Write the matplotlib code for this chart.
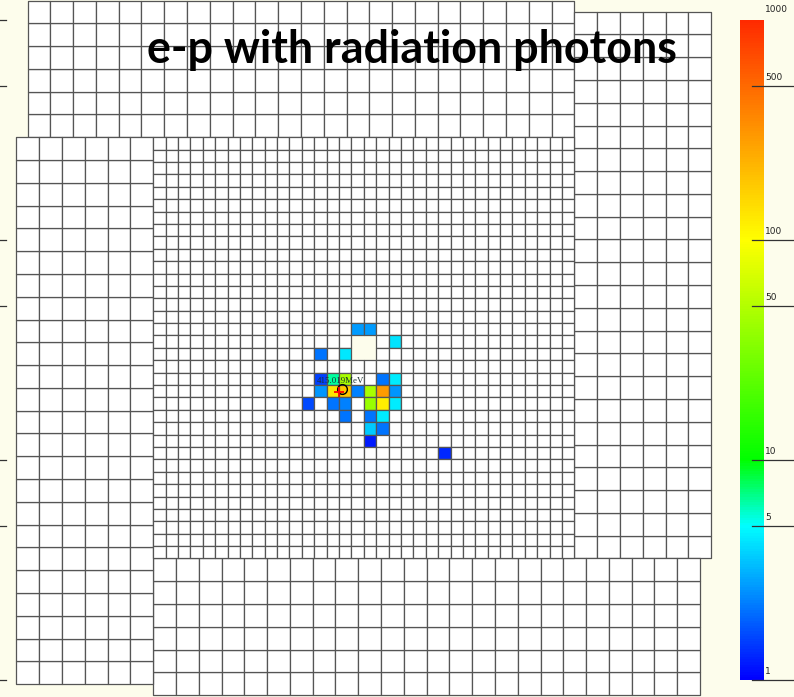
import numpy as np
import matplotlib
matplotlib.use("Agg")
import matplotlib.pyplot as plt
from matplotlib.patches import Rectangle
from matplotlib.collections import PatchCollection
from matplotlib.colors import LinearSegmentedColormap, LogNorm
from matplotlib.transforms import blended_transform_factory
import matplotlib.cm as cm

# HyCal-like layout: 34x34 PbWO4 crystals with a 2x2 hole, 4 lead-glass blocks around
crystal_size = 2.077   # cm
glass_size = 3.82      # cm
n_crystal = 34
hole_cols = [16, 17]
hole_rows = [16, 17]

# fired crystals (column, row from top) and energy (MeV)
hit_cols = [16, 17, 19, 13, 15, 13, 14, 15, 18, 19, 13, 14, 15, 16, 17, 18, 19,
            12, 14, 15, 17, 18, 19, 15, 17, 18, 17, 18, 17, 23]
hit_rows = [15, 15, 16, 17, 17, 19, 19, 19, 19, 19, 20, 20, 20, 20, 20, 20, 20,
            21, 21, 21, 21, 21, 21, 22, 22, 22, 23, 23, 24, 25]
hit_energy = [2.7, 2.7, 4.2, 2.1, 4.3, 1.5, 6.5, 45, 2.1, 4.5, 2.6, 135, 180, 2.3, 46, 290, 2.6,
              1.6, 2.1, 2.3, 40, 120, 4.5, 2.1, 2.1, 4.5, 3.6, 2.1, 1.2, 1.3]

cluster_x, cluster_y = -3.65, -6.89   # reconstructed cluster (cm)
photon_x, photon_y = -4.16, -7.39
cluster_label = "415.019MeV"

cbar_ticks = [500, 100, 50, 10, 5, 1]
cbar_labels = ["500", "100", "50", "10", "5", "1"]

bg = "#fdfdec"
edge = "#555555"

cmap = LinearSegmentedColormap.from_list(
    "hycal",
    [(0.0, "#0000ff"), (0.233, "#00ffff"), (0.333, "#00ff00"),
     (0.667, "#ffff00"), (1.0, "#ff2a00")])
norm = LogNorm(1, 1000)

fig = plt.figure(figsize=(7.94, 6.97), dpi=100, facecolor=bg)
ax = fig.add_axes([0, 0, 1, 1])
ax.set_facecolor(bg)
ax.set_xlim(-60.99, 72.12)
ax.set_ylim(-58.53, 58.32)
ax.axis("off")

W = n_crystal * crystal_size / 2
span = 24 * glass_size

# lead glass blocks (x0, y0, ncols, nrows)
blocks = [
    (W - span, W, 24, 6),                  # top
    (W, -W, 6, 24),                        # right
    (-W, -W - 6 * glass_size, 24, 6),      # bottom
    (-W - 6 * glass_size, W - span, 6, 24) # left
]
glass = []
for x0, y0, nc, nr in blocks:
    for i in range(nc):
        for j in range(nr):
            glass.append(Rectangle((x0 + i * glass_size, y0 + j * glass_size), glass_size, glass_size))
ax.add_collection(PatchCollection(glass, facecolor="white", edgecolor=edge, linewidth=0.9))

hits = {(c, r): e for c, r, e in zip(hit_cols, hit_rows, hit_energy)}
crystals, colors = [], []
for i in range(n_crystal):
    for j in range(n_crystal):
        if i in hole_cols and j in hole_rows:
            continue
        crystals.append(Rectangle((-W + i * crystal_size, W - (j + 1) * crystal_size),
                                  crystal_size, crystal_size))
        colors.append(cmap(norm(hits[(i, j)])) if (i, j) in hits else "white")
ax.add_collection(PatchCollection(crystals, facecolor=colors, edgecolor=edge, linewidth=0.9))

ax.plot(cluster_x, cluster_y, "o", mfc="none", mec="black", ms=7, mew=1.0)
ax.plot(photon_x, photon_y, "+", color="red", ms=7, mew=1.3)
ax.text(cluster_x - 0.3, cluster_y + 1.35, cluster_label, fontsize=6.4, family="Liberation Serif",
        color="#1a3030", ha="center", va="center")

# title
title = fig.text(412 / 794, 1 - 63 / 697, "e-p with radiation photons", fontsize=30,
                 family=["Lato", "Open Sans"], weight="bold", ha="center", va="baseline")
fig.canvas.draw()
w = title.get_window_extent().width
title.set_fontsize(30 * 530 / w)

# colour bar
cax = fig.add_axes([740 / 794, 17 / 697, 24 / 794, 660 / 697])
cb = fig.colorbar(cm.ScalarMappable(norm=norm, cmap=cmap), cax=cax)
cb.outline.set_visible(False)
cax.set_yticks([])
cax.minorticks_off()
cax.tick_params(which="both", length=0, labelright=False)

tr = blended_transform_factory(fig.transFigure, cax.transData)
for v, lab in zip(cbar_ticks, cbar_labels):
    cax.plot([752 / 794, 1.0], [v, v], color="#333333", lw=0.9, transform=tr, clip_on=False)
    cax.text(765 / 794, v * 1.04, lab, fontsize=6.5, transform=tr, ha="left", va="bottom",
             color="#222222")
cax.text(765 / 794, 1000 * 1.07, "1000", fontsize=6.5, transform=tr, ha="left", va="bottom",
         color="#222222")

# leftover tick marks of a neighbouring scale at the left border
for v in [1000] + cbar_ticks:
    cax.plot([0, 6 / 794], [v, v], color="#333333", lw=0.9, transform=tr, clip_on=False)

fig.savefig("out.png", dpi=100, facecolor=bg)
